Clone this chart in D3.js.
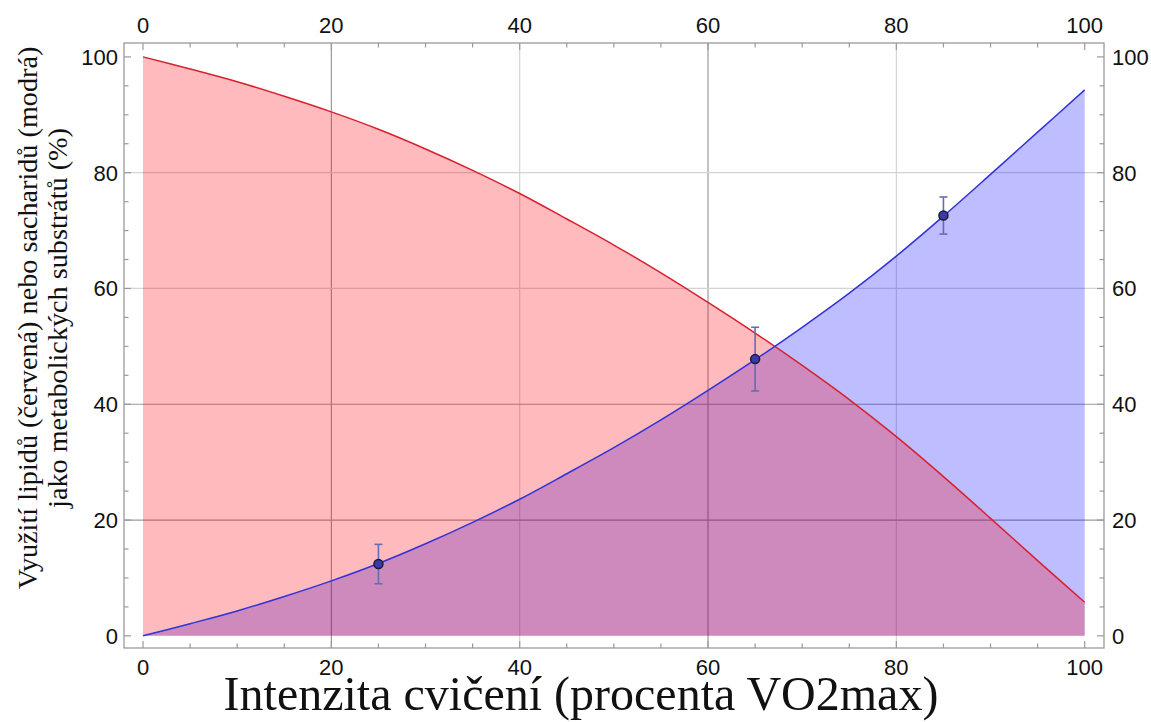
<!DOCTYPE html>
<html><head><meta charset="utf-8">
<script src="https://cdn.jsdelivr.net/npm/d3@7"></script>
<style>html,body{margin:0;padding:0;background:#fff;}svg{display:block;}</style>
</head><body>
<script>
// ---- data ----
const intensity = [0,5,10,15,20,25,30,35,40,45,50,55,60,65,70,75,80,85,90,95,100];
const carbohydrates = [0,2.1,4.3,6.8,9.5,12.5,15.9,19.6,23.6,28.0,32.5,37.3,42.4,47.7,53.3,59.2,65.6,72.5,79.7,87.0,94.3];
const lipids = [100,97.9,95.7,93.2,90.5,87.5,84.1,80.4,76.4,72.0,67.5,62.7,57.6,52.3,46.7,40.8,34.4,27.5,20.3,13.0,5.8];
const measuredX = [25,65,85];
const measuredY = [12.4,47.8,72.6];
const measuredErr = [3.4,5.5,3.2];
const majorTicks = [0,20,40,60,80,100];
const minorTicks = [5,10,15,25,30,35,45,50,55,65,70,75,85,90,95];
const gridX = [20,40,60,80];
const gridY = [20,40,60,80];
const xTitle = "Intenzita cvičení (procenta VO2max)";
const yTitle = ["Využití lipidů (červená) nebo sacharidů (modrá)", "jako metabolických substrátů (%)"];

const W = 1151, H = 722;
const svg = d3.select("body").append("svg").attr("width", W).attr("height", H);
const x = d3.scaleLinear().domain([-2.02, 102.05]).range([124, 1104]);
const y = d3.scaleLinear().domain([-2.1, 102.4]).range([648, 43]);

// grid
const darkGridX = [20,60], darkGridY = [20,40];
svg.append("g").selectAll("line").data(gridX).join("line")
  .attr("x1", d => x(d)).attr("x2", d => x(d)).attr("y1", 43).attr("y2", 648)
  .attr("stroke", d => darkGridX.includes(d) ? "#9a9a9a" : "#d4d4d4").attr("stroke-width", 1.2);
svg.append("g").selectAll("line").data(gridY).join("line")
  .attr("y1", d => y(d)).attr("y2", d => y(d)).attr("x1", 124).attr("x2", 1104)
  .attr("stroke", d => darkGridY.includes(d) ? "#9a9a9a" : "#d4d4d4").attr("stroke-width", 1.2);

const carbData = intensity.map((v,i) => [v, carbohydrates[i]]);
const lipData = intensity.map((v,i) => [v, lipids[i]]);
const area = d3.area().x(d => x(d[0])).y0(y(0)).y1(d => y(d[1])).curve(d3.curveCatmullRom);
const line = d3.line().x(d => x(d[0])).y(d => y(d[1])).curve(d3.curveCatmullRom);

svg.append("path").datum(carbData).attr("d", area).attr("fill", "rgb(0,0,255)").attr("fill-opacity", 0.26);
svg.append("path").datum(lipData).attr("d", area).attr("fill", "rgb(250,0,10)").attr("fill-opacity", 0.27);
svg.append("path").datum(lipData).attr("d", line).attr("fill", "none").attr("stroke", "#d8202e").attr("stroke-width", 1.5);
svg.append("path").datum(carbData).attr("d", line).attr("fill", "none").attr("stroke", "#3232d8").attr("stroke-width", 1.5);

// error bars and points
const pts = measuredX.map((v,i) => ({x:v, y:measuredY[i], e:measuredErr[i]}));
const eb = svg.append("g").attr("stroke", "#6a6ab0").attr("stroke-width", 1.6);
pts.forEach(p => {
  eb.append("line").attr("x1", x(p.x)).attr("x2", x(p.x)).attr("y1", y(p.y - p.e)).attr("y2", y(p.y + p.e));
  [p.y - p.e, p.y + p.e].forEach(v => eb.append("line").attr("x1", x(p.x) - 4).attr("x2", x(p.x) + 4).attr("y1", y(v)).attr("y2", y(v)));
});
svg.append("g").selectAll("circle").data(pts).join("circle")
  .attr("cx", d => x(d.x)).attr("cy", d => y(d.y)).attr("r", 4.5)
  .attr("fill", "#3a3aa8").attr("stroke", "#1a1a3a").attr("stroke-width", 1.5);

// frame
svg.append("rect").attr("x", 124).attr("y", 43).attr("width", 980).attr("height", 605)
  .attr("fill", "none").attr("stroke", "#9a9a9a").attr("stroke-width", 1.3);

// ticks (inward)
const tk = svg.append("g").attr("stroke", "#9a9a9a").attr("stroke-width", 1.2);
const allTicks = majorTicks.map(v => [v, 7]).concat(minorTicks.map(v => [v, 4.5]));
allTicks.forEach(([v, len]) => {
  tk.append("line").attr("x1", x(v)).attr("x2", x(v)).attr("y1", 648).attr("y2", 648 - len);
  tk.append("line").attr("x1", x(v)).attr("x2", x(v)).attr("y1", 43).attr("y2", 43 + len);
  tk.append("line").attr("y1", y(v)).attr("y2", y(v)).attr("x1", 124).attr("x2", 124 + len);
  tk.append("line").attr("y1", y(v)).attr("y2", y(v)).attr("x1", 1104).attr("x2", 1104 - len);
});

// tick labels
const lab = svg.append("g").attr("font-family", "'Liberation Sans', Arial, sans-serif").attr("font-size", 22).attr("fill", "#111");
majorTicks.forEach(v => {
  lab.append("text").attr("x", x(v)).attr("y", 33).attr("text-anchor", "middle").text(v);
  lab.append("text").attr("x", x(v)).attr("y", 675).attr("text-anchor", "middle").text(v);
  lab.append("text").attr("x", 118).attr("y", y(v)).attr("dy", "0.36em").attr("text-anchor", "end").text(v);
  lab.append("text").attr("x", 1112).attr("y", y(v)).attr("dy", "0.36em").attr("text-anchor", "start").text(v);
});

// titles
function fit(t, target, base) {
  t.attr("font-size", base);
  const w = t.node().getComputedTextLength();
  const fs = base * target / w;
  t.attr("font-size", fs);
  return fs;
}
const serif = "'Liberation Serif', 'Times New Roman', serif";
const xt = svg.append("text").attr("x", 581).attr("y", 710).attr("text-anchor", "middle")
  .attr("font-family", serif).attr("fill", "#111").text(xTitle);
fit(xt, 715, 40);

const yt1 = svg.append("text").attr("transform", "translate(37,318) rotate(-90)").attr("text-anchor", "middle")
  .attr("font-family", serif).attr("fill", "#111").text(yTitle[0]);
const fs = fit(yt1, 543, 25);
svg.append("text").attr("transform", "translate(67,318) rotate(-90)").attr("text-anchor", "middle")
  .attr("font-family", serif).attr("font-size", fs).attr("fill", "#111").text(yTitle[1]);
</script>
</body></html>
